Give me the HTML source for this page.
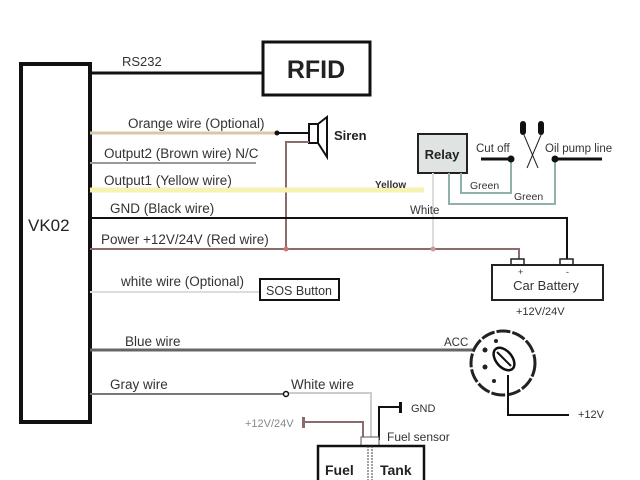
<!DOCTYPE html>
<html><head><meta charset="utf-8"><style>
html,body{margin:0;padding:0;background:#fff;}
svg{display:block;font-family:"Liberation Sans",sans-serif;}
.l{font-size:13.5px;fill:#333;}
</style></head><body>
<svg width="640" height="480" viewBox="0 0 640 480" xmlns="http://www.w3.org/2000/svg">
<rect width="640" height="480" fill="#fff"/>
<rect x="21" y="64" width="69" height="358" fill="none" stroke="#111" stroke-width="4"/>
<text x="28" y="231" font-size="17" fill="#222">VK02</text>
<line x1="90" y1="73" x2="263" y2="73" stroke="#111" stroke-width="3"/>
<text x="122" y="66" font-size="13" fill="#333">RS232</text>
<rect x="263" y="42" width="107" height="53" fill="#fff" stroke="#111" stroke-width="3"/>
<text x="316" y="78" font-size="25" font-weight="bold" text-anchor="middle" fill="#222">RFID</text>
<line x1="90" y1="133" x2="277" y2="133" stroke="#d6c9a4" stroke-width="3"/>
<text x="128" y="128" class="l">Orange wire (Optional)</text>
<line x1="277" y1="133" x2="309" y2="133" stroke="#111" stroke-width="2"/>
<circle cx="277" cy="133" r="2.5" fill="#111"/>
<rect x="309" y="124" width="9" height="19" fill="#fff" stroke="#111" stroke-width="2"/>
<polygon points="318,124 327,117 327,157 318,143" fill="#fff" stroke="#111" stroke-width="2"/>
<text x="334" y="140" font-size="13" font-weight="bold" fill="#222">Siren</text>
<polyline points="309,142 286,142 286,249" fill="none" stroke="#8b6b6b" stroke-width="2"/>
<line x1="90" y1="163" x2="256" y2="163" stroke="#999" stroke-width="2"/>
<text x="104" y="158" class="l">Output2 (Brown wire)  N/C</text>
<line x1="90" y1="190" x2="424" y2="190" stroke="#f6f2b0" stroke-width="5"/>
<text x="104" y="185" class="l">Output1 (Yellow wire)</text>
<text x="375" y="188" font-size="10" font-weight="bold" fill="#333">Yellow</text>
<rect x="418" y="134" width="49" height="39" fill="#dfe4e3" stroke="#222" stroke-width="2"/>
<text x="442" y="159" font-size="13" font-weight="bold" text-anchor="middle" fill="#222">Relay</text>
<line x1="433" y1="173" x2="433" y2="249" stroke="#ddd" stroke-width="2"/>
<polyline points="461,173 461,193 511,193 511,159" fill="none" stroke="#8fb0ab" stroke-width="2"/>
<polyline points="449,173 449,204 555,204 555,159" fill="none" stroke="#8fb0ab" stroke-width="2"/>
<line x1="481" y1="159" x2="511" y2="159" stroke="#111" stroke-width="3"/>
<circle cx="511" cy="159" r="3.5" fill="#111"/>
<line x1="555" y1="159" x2="602" y2="159" stroke="#111" stroke-width="3"/>
<circle cx="555" cy="159" r="3.5" fill="#111"/>
<line x1="524" y1="135" x2="538" y2="168" stroke="#222" stroke-width="1"/>
<line x1="541" y1="135" x2="527" y2="168" stroke="#222" stroke-width="1"/>
<rect x="520" y="121" width="6" height="14" rx="3" fill="#111"/>
<rect x="538" y="121" width="6" height="14" rx="3" fill="#111"/>
<text x="476" y="152" font-size="11.5" fill="#333">Cut off</text>
<text x="545" y="152" font-size="11.5" fill="#333">Oil pump line</text>
<text x="470" y="189" font-size="10.5" fill="#333">Green</text>
<text x="514" y="200" font-size="10.5" fill="#333">Green</text>
<polyline points="90,218 567,218 567,260" fill="none" stroke="#111" stroke-width="2"/>
<text x="110" y="213" class="l">GND (Black wire)</text>
<text x="410" y="214" font-size="11.5" fill="#333">White</text>
<polyline points="90,249 519,249 519,260" fill="none" stroke="#8b6b6b" stroke-width="2"/>
<circle cx="286" cy="249" r="2.5" fill="#c77"/>
<circle cx="433" cy="249" r="2.5" fill="#c99"/>
<text x="101" y="244" class="l">Power +12V/24V (Red wire)</text>
<rect x="511" y="259" width="13" height="6" fill="#fff" stroke="#222" stroke-width="1.5"/>
<rect x="560" y="259" width="13" height="6" fill="#fff" stroke="#222" stroke-width="1.5"/>
<rect x="492" y="265" width="111" height="35" fill="#fff" stroke="#222" stroke-width="2"/>
<text x="518" y="275" font-size="9" fill="#333">+</text>
<text x="566" y="275" font-size="9" fill="#333">-</text>
<text x="546" y="290" font-size="13" text-anchor="middle" fill="#333">Car Battery</text>
<text x="516" y="315" font-size="11" fill="#333">+12V/24V</text>
<line x1="90" y1="292" x2="260" y2="292" stroke="#ddd" stroke-width="2"/>
<text x="121" y="286" class="l">white wire (Optional)</text>
<rect x="260" y="279" width="79" height="21" fill="#fff" stroke="#111" stroke-width="2"/>
<text x="299" y="295" font-size="12.5" text-anchor="middle" fill="#333">SOS Button</text>
<line x1="90" y1="350" x2="484" y2="350" stroke="#666" stroke-width="3"/>
<text x="125" y="346" class="l">Blue wire</text>
<text x="444" y="346" font-size="11.5" fill="#333">ACC</text>
<circle cx="503" cy="363" r="32" fill="#fff" stroke="#222" stroke-width="3" stroke-dasharray="14,2"/>
<ellipse cx="504" cy="359" rx="8" ry="13" transform="rotate(-40 504 359)" fill="#fff" stroke="#111" stroke-width="2.5"/>
<line x1="497" y1="352" x2="511" y2="366" stroke="#111" stroke-width="2"/>
<circle cx="485" cy="350" r="2.5" fill="#222"/>
<circle cx="496" cy="341" r="2" fill="#222"/>
<circle cx="485" cy="367" r="2.5" fill="#222"/>
<circle cx="494" cy="381" r="2" fill="#222"/>
<polyline points="508,375 508,415 569,415" fill="none" stroke="#111" stroke-width="2"/>
<text x="578" y="418" font-size="11" fill="#333">+12V</text>
<line x1="90" y1="394" x2="286" y2="394" stroke="#777" stroke-width="2"/>
<circle cx="286" cy="394" r="2.5" fill="#fff" stroke="#111" stroke-width="1.5"/>
<text x="110" y="389" class="l">Gray wire</text>
<text x="291" y="389" class="l">White wire</text>
<polyline points="289,393 371,393 371,440" fill="none" stroke="#ccc" stroke-width="2"/>
<polyline points="379,440 379,407 399,407" fill="none" stroke="#111" stroke-width="2"/>
<rect x="399" y="402" width="3" height="11" fill="#111"/>
<text x="411" y="412" font-size="11" fill="#333">GND</text>
<text x="245" y="427" font-size="11" fill="#888">+12V/24V</text>
<rect x="302" y="417" width="3" height="11" fill="#8b6b6b"/>
<polyline points="304,422 363,422 363,438" fill="none" stroke="#8b6b6b" stroke-width="2"/>
<text x="387" y="441" font-size="12" fill="#333">Fuel sensor</text>
<rect x="361" y="437" width="18" height="9" fill="#fff" stroke="#555" stroke-width="1"/>
<rect x="318" y="446" width="106" height="40" fill="#fff" stroke="#111" stroke-width="2.5"/>
<line x1="368" y1="446" x2="368" y2="480" stroke="#444" stroke-width="1" stroke-dasharray="2,1"/>
<line x1="372" y1="446" x2="372" y2="480" stroke="#444" stroke-width="1" stroke-dasharray="2,1"/>
<text x="325" y="475" font-size="14" font-weight="bold" fill="#222">Fuel</text>
<text x="380" y="475" font-size="14" font-weight="bold" fill="#222">Tank</text>
</svg>
</body></html>
